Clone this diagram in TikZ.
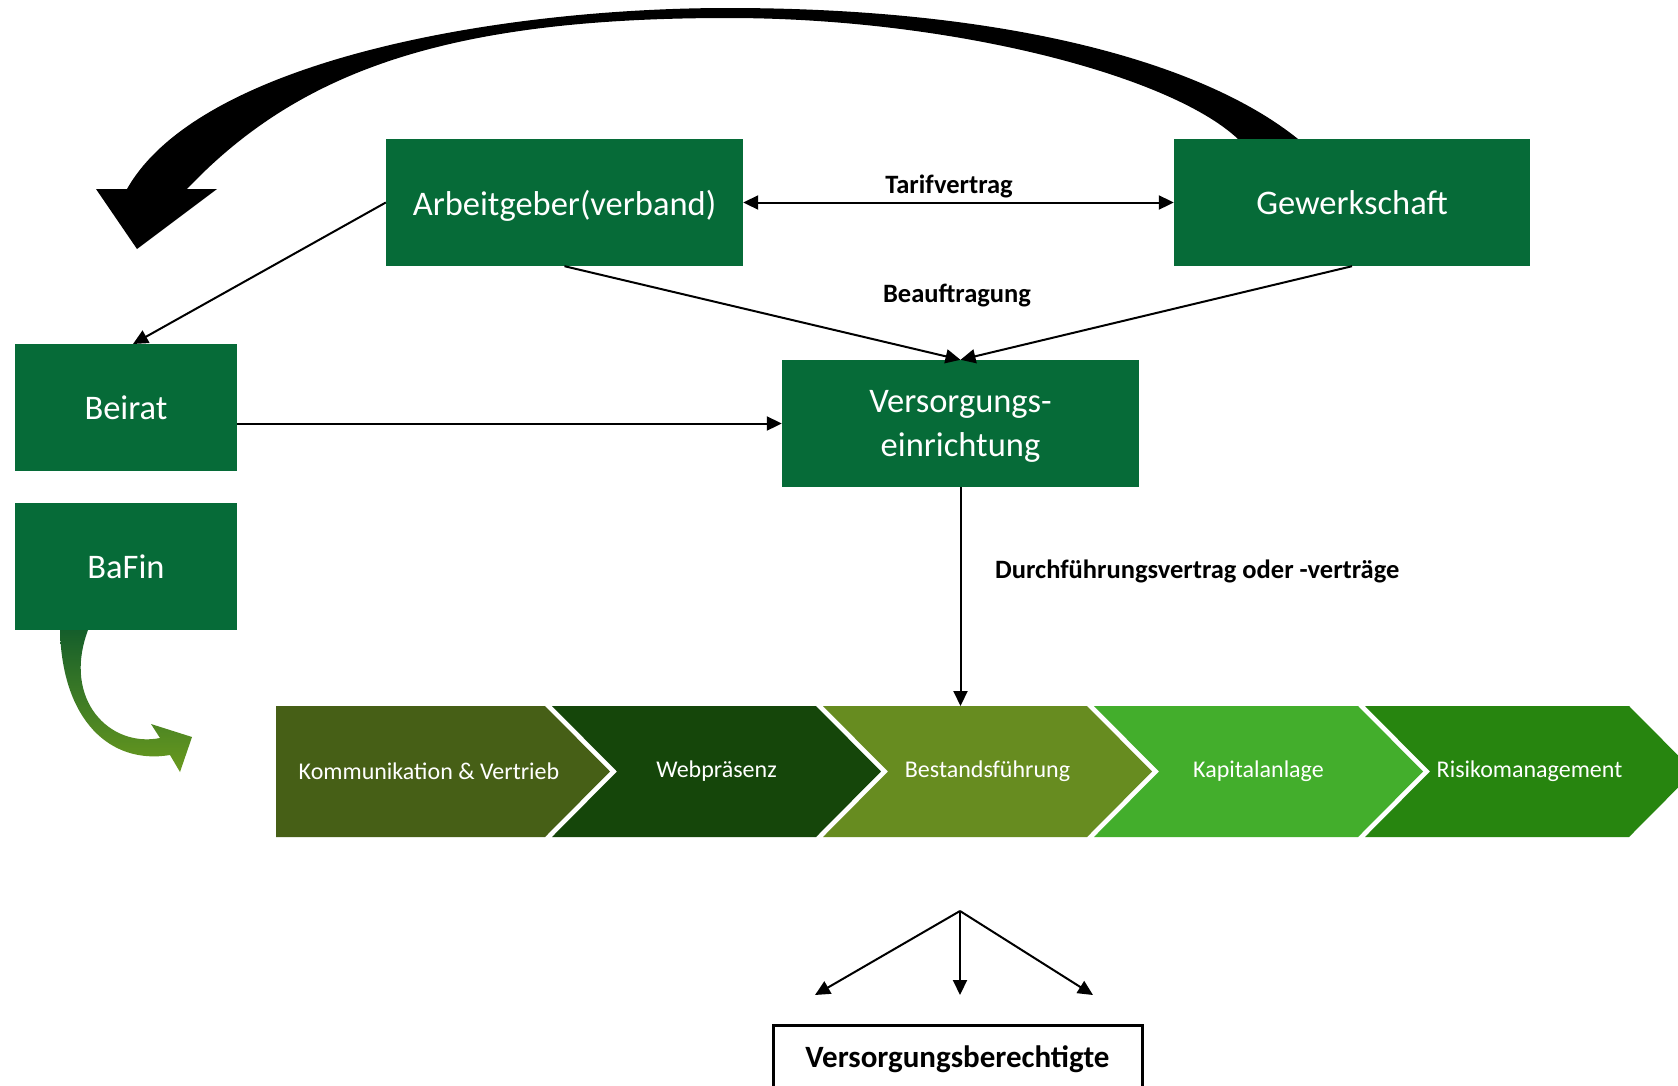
\documentclass[tikz,border=0pt]{standalone}
\usepackage{fontspec}
\setmainfont{Carlito}
\usetikzlibrary{arrows.meta}
\definecolor{boxgreen}{HTML}{066B38}
\definecolor{chA}{HTML}{465F16}
\definecolor{chB}{HTML}{15460A}
\definecolor{chC}{HTML}{678C20}
\definecolor{chD}{HTML}{43AE2C}
\definecolor{chE}{HTML}{27850F}
\definecolor{arrdark}{HTML}{0F5A2C}
\definecolor{arrmid}{HTML}{2E6F25}
\definecolor{arrlight}{HTML}{6A9A1E}
\tikzset{
  gbox/.style={fill=boxgreen, text=white, inner sep=0pt, align=center, text depth=0pt,
    font=\fontsize{34.5}{44}\selectfont},
  chevtext/.style={text=white, inner sep=0pt, font=\fontsize{24}{28}\selectfont},
  lbl/.style={inner sep=0pt, text depth=0pt, font=\bfseries\fontsize{26.5}{30}\selectfont},
  conn/.style={line width=2pt, -{Triangle[length=15pt,width=14pt]}},
  conn2/.style={line width=2pt, {Triangle[length=15pt,width=14pt]}-{Triangle[length=15pt,width=14pt]}},
}
\begin{document}
\begin{tikzpicture}[x=1pt,y=-1pt]
\clip (0,0) rectangle (1678,1085);
\fill[white] (0,0) rectangle (1678,1085);

% big black curved arrow
\fill[black] (127,189) .. controls (200,60) and (500,8) .. (728,8)
  .. controls (1000,8) and (1200,60) .. (1298,139) -- (1310,150) -- (1250,150) -- (1238,139)
  .. controls (1170,75) and (950,18) .. (728,18)
  .. controls (450,18) and (300,70) .. (187,189)
  -- (217,189) -- (137,249) -- (96,189) -- cycle;

% BaFin curved gradient arrow
\shade[top color=arrdark, middle color=arrmid, bottom color=arrlight]
  (60,620) -- (60,630) .. controls (62,720) and (110,765) .. (170,755)
  -- (180,772) -- (192,737) -- (151,724) -- (160,738)
  .. controls (110,748) and (62,700) .. (88,630) -- (88,620) -- cycle;

% boxes
\node[gbox, minimum width=357pt, minimum height=127pt] (arb) at (564.5,202.5) {Arbeitgeber(verband)};
\node[gbox, minimum width=356pt, minimum height=127pt] (gew) at (1352,202.5) {Gewerkschaft};
\node[gbox, minimum width=222pt, minimum height=127pt] (beirat) at (126,407.5) {Beirat};
\node[gbox, minimum width=222pt, minimum height=127pt] (bafin) at (126,566.5) {BaFin};
\node[gbox, minimum width=357pt, minimum height=127pt] (ver) at (960.5,423.5) {Versorgungs-\\einrichtung};

% chevrons
\fill[chA] (276,706) -- (545,706) -- (610,771.5) -- (545,837) -- (276,837) -- cycle;
\fill[chB] (552,706) -- (816,706) -- (881,771.5) -- (816,837) -- (552,837) -- (617,771.5) -- cycle;
\fill[chC] (823,706) -- (1087,706) -- (1152,771.5) -- (1087,837) -- (823,837) -- (888,771.5) -- cycle;
\fill[chD] (1094,706) -- (1358,706) -- (1423,771.5) -- (1358,837) -- (1094,837) -- (1159,771.5) -- cycle;
\fill[chE] (1365,706) -- (1629,706) -- (1694,771.5) -- (1629,837) -- (1365,837) -- (1430,771.5) -- cycle;
\node[chevtext] (c1) at (429,771.5) {Kommunikation \& Vertrieb};
\node[chevtext] (c2) at (716.5,771.5) {Webpräsenz};
\node[chevtext] (c3) at (987.5,771.5) {Bestandsführung};
\node[chevtext] (c4) at (1258.5,771.5) {Kapitalanlage};
\node[chevtext] (c5) at (1529.5,771.5) {Risikomanagement};
\coordinate (chevtop) at (960.5,706);

% connectors
\draw[conn2] (arb.east) -- (gew.west);
\draw[conn] (arb.west) -- (133,344);
\draw[conn] (arb.south) -- (ver.north);
\draw[conn] (gew.south) -- (ver.north);
\draw[conn] (beirat.east |- ver.west) -- (ver.west);
\draw[conn] (ver.south) -- (chevtop);

% labels
\node[lbl] (ltarif) at (949,184) {Tarifvertrag};
\node[lbl] (lbeauf) at (957,293) {Beauftragung};
\node[lbl, anchor=west] (ldurch) at (995,569) {Durchführungsvertrag oder -verträge};

% bottom fork
\coordinate (fork) at (960,911);
\coordinate (t1) at (815,995);
\coordinate (t2) at (960,995);
\coordinate (t3) at (1093,995);
\draw[conn] (fork) -- (t1);
\draw[conn] (fork) -- (t2);
\draw[conn] (fork) -- (t3);

\node[draw=black, line width=3pt, minimum width=369pt, minimum height=64pt, inner sep=0pt,
  text depth=0pt, font=\bfseries\fontsize{31}{36}\selectfont] (vb) at (957.5,1057) {Versorgungsberechtigte};
\end{tikzpicture}
\end{document}
